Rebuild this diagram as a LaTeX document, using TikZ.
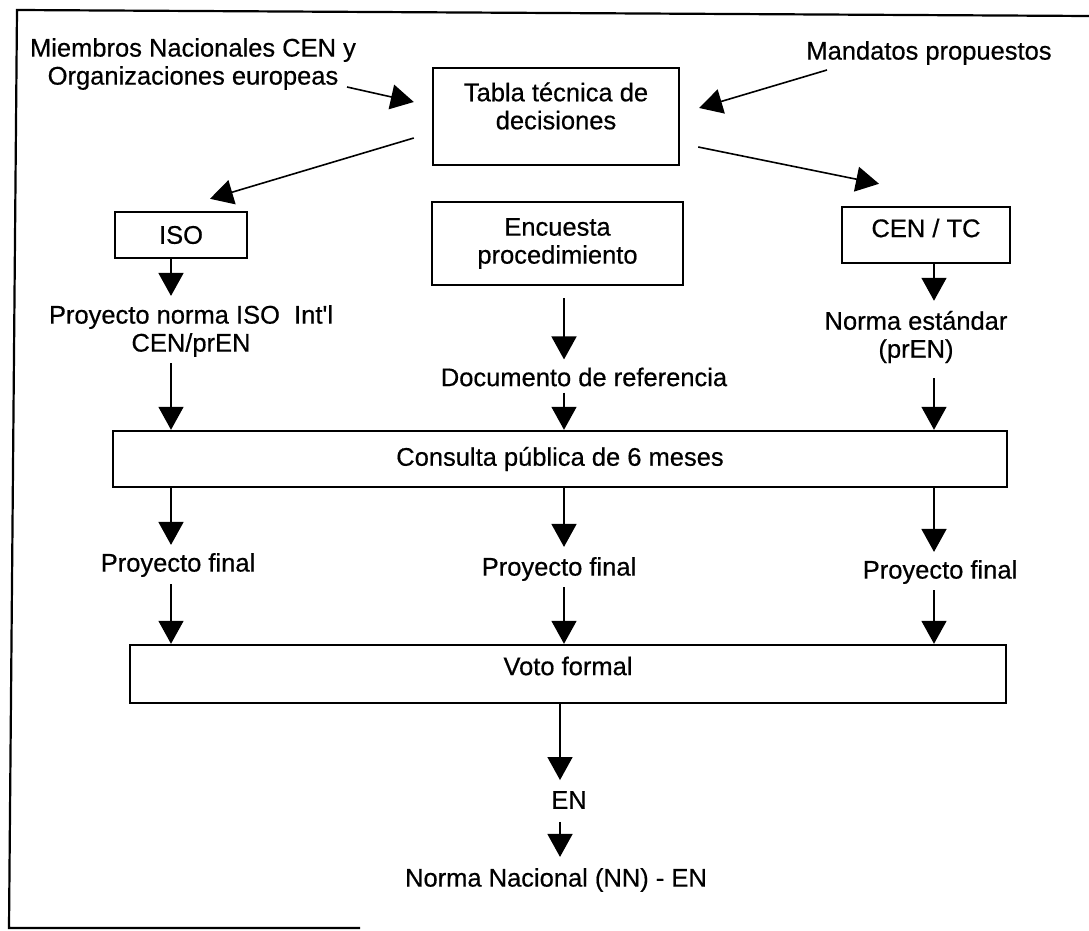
\documentclass[tikz,border=0pt]{standalone}
\usepackage{fontspec}
\setmainfont{Liberation Sans}
\newfontfamily\dfam[FakeBold=0.5]{Liberation Sans}
\usetikzlibrary{arrows.meta,calc}
\newcommand\dfont{\dfam\fontsize{25.5}{28}\selectfont}
\begin{document}
\begin{tikzpicture}[x=1pt,y=-1pt,
  box/.style={draw, line width=2.4pt, inner sep=0pt, align=center, font=\dfont},
  txt/.style={inner sep=1pt, align=center, font=\dfont},
  arr/.style={line width=1.6pt, -{Triangle[length=23pt,width=25pt]}},
  frame/.style={line width=2.2pt}
]
\fill[white] (0,0) rectangle (1089,931);
\useasboundingbox (0,0) rectangle (1089,931);
% outer frame (open on the right)
\draw[frame] (1089,16) -- (17,10) -- (9,928) -- (360,928);

% boxes
\node[box, minimum width=246pt, minimum height=97pt] (tabla) at (556,116.5) {};
\node[txt] (tablatxt) at (556,106) {Tabla técnica de\\decisiones};
\node[box, minimum width=132pt, minimum height=46pt] (iso) at (181,235) {ISO};
\node[box, minimum width=251pt, minimum height=83pt] (enc) at (557.5,243.5) {Encuesta\\procedimiento};
\node[box, minimum width=168pt, minimum height=56pt] (cen) at (926,235) {};
\node[txt] (centxt) at (926,228) {CEN / TC};
\node[box, minimum width=894pt, minimum height=56pt] (cons) at (560,459) {Consulta pública de 6 meses};
\node[box, minimum width=876pt, minimum height=58pt] (voto) at (568,674) {};
\node[txt] (vototxt) at (568,666) {Voto formal};

% free texts
\node[txt] (miembros) at (193,64) {Miembros Nacionales CEN y\\Organizaciones europeas};
\node[txt] (mandatos) at (929,53) {Mandatos propuestos};
\node[txt] (proyiso) at (191,331) {Proyecto norma ISO\ \ Int\textquotesingle l\\CEN/prEN};
\node[txt] (docref) at (584,377) {Documento de referencia};
\node[txt] (normaest) at (916,337) {Norma estándar\\(prEN)};
\node[txt] (pf1) at (178,565) {Proyecto final};
\node[txt] (pf2) at (559,569) {Proyecto final};
\node[txt] (pf3) at (940,572) {Proyecto final};
\node[txt] (en) at (569,800) {EN};
\node[txt] (nn) at (556,880) {Norma Nacional (NN) - EN};

% column guides
\coordinate (colL) at (171,0);
\coordinate (colM) at (564,0);
\coordinate (colR) at (934,0);
\coordinate (mstart) at (347,87);
\coordinate (dstart) at (827,70);

% diagonal connectors
\draw[arr] (mstart) -- ($(tabla.west)+(-18,-14.5)$);
\draw[arr] (dstart) -- ($(tabla.east)+(19,-8.5)$);
\draw[arr] ($(tabla.west)+(-18,21.5)$) -- ($(iso.north)+(29,-12)$);
\draw[arr] ($(tabla.east)+(18,30.5)$) -- ($(cen.north)+(-47,-22)$);

% left column
\draw[arr, shorten >=8pt] (iso.south -| colL) -- (proyiso.north -| colL);
\draw[arr, shorten <=5pt] (proyiso.south -| colL) -- (cons.north -| colL);
\draw[arr, shorten >=7pt] (cons.south -| colL) -- (pf1.north -| colL);
\draw[arr, shorten <=6pt] (pf1.south -| colL) -- (voto.north -| colL);
% middle column
\draw[arr, shorten <=12pt, shorten >=7pt] (enc.south -| colM) -- (docref.north -| colM);
\draw[arr, shorten <=5pt] (docref.south -| colM) -- (cons.north -| colM);
\draw[arr, shorten >=9pt] (cons.south -| colM) -- (pf2.north -| colM);
\draw[arr, shorten <=5pt] (pf2.south -| colM) -- (voto.north -| colM);
% right column
\draw[arr, shorten >=9pt] (cen.south -| colR) -- (normaest.north -| colR);
\draw[arr, shorten <=14pt] (normaest.south -| colR) -- (cons.north -| colR);
\draw[arr, shorten >=7pt] (cons.south -| colR) -- (pf3.north -| colR);
\draw[arr, shorten <=5pt] (pf3.south -| colR) -- (voto.north -| colR);
% bottom
\coordinate (vs) at ($(voto.south)+(-8,0)$);
\draw[arr, shorten >=10pt] (vs) -- (en.north -| vs);
\draw[arr, shorten <=12pt, shorten >=10pt] (en.south -| vs) -- (nn.north -| vs);
\end{tikzpicture}
\end{document}
